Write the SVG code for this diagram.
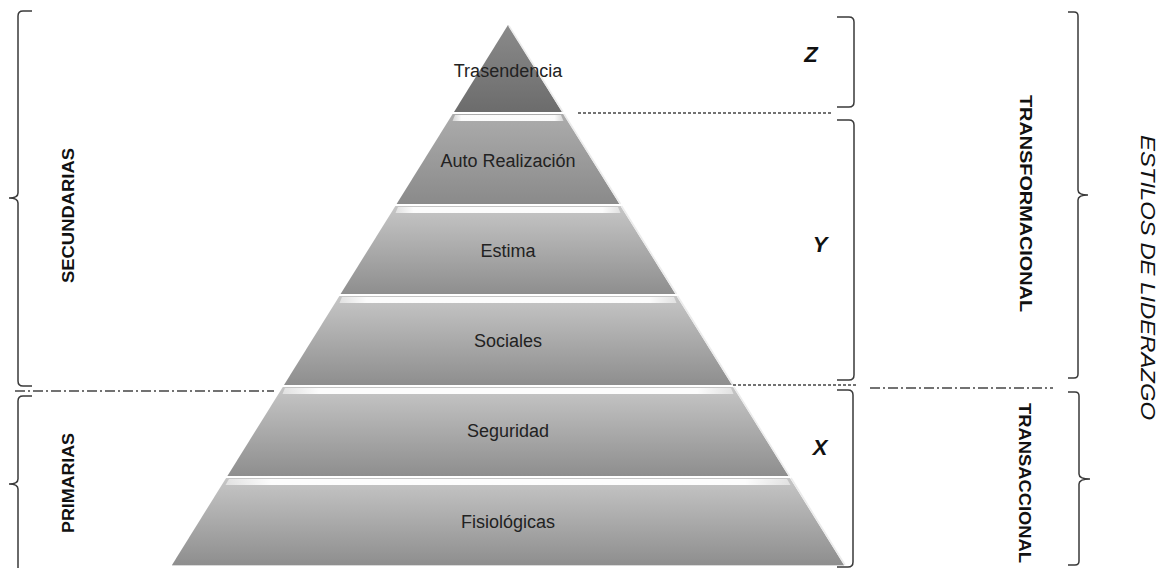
<svg xmlns="http://www.w3.org/2000/svg" width="1168" height="568" viewBox="0 0 1168 568">
<style>
.lbl{font-family:"Liberation Sans",Arial,sans-serif;font-size:18px;fill:#222;text-anchor:middle}
.cap{font-family:"Liberation Sans",Arial,sans-serif;font-weight:bold;fill:#111;text-anchor:middle}
.let{font-family:"Liberation Sans",Arial,sans-serif;font-weight:bold;font-style:italic;font-size:22px;fill:#111;text-anchor:middle}
.br{fill:none;stroke:#3a3a3a;stroke-width:1.5}
.dash{fill:none;stroke:#444;stroke-width:1.3;stroke-dasharray:3 2}
.dd{fill:none;stroke:#444;stroke-width:1.3;stroke-dasharray:10 3 2 3}
.strip{fill:url(#gs)}
.bev{fill:none;stroke:#ececec;stroke-width:1.5}
</style>
<defs>
<linearGradient id="g1" x1="0" y1="0" x2="0" y2="1"><stop offset="0" stop-color="#8a8a8a"/><stop offset="1" stop-color="#6c6c6c"/></linearGradient>
<linearGradient id="g2" x1="0" y1="0" x2="0" y2="1"><stop offset="0" stop-color="#acacac"/><stop offset="1" stop-color="#8a8a8a"/></linearGradient>
<linearGradient id="g3" x1="0" y1="0" x2="0" y2="1"><stop offset="0" stop-color="#c6c6c6"/><stop offset="1" stop-color="#8e8e8e"/></linearGradient>
<linearGradient id="gs" x1="0" y1="0" x2="1" y2="0"><stop offset="0" stop-color="#ffffff" stop-opacity="0.5"/><stop offset="0.08" stop-color="#ffffff" stop-opacity="0.95"/><stop offset="0.92" stop-color="#ffffff" stop-opacity="0.95"/><stop offset="1" stop-color="#ffffff" stop-opacity="0.5"/></linearGradient>
</defs>
<rect width="1168" height="568" fill="#ffffff"/>

<g id="tier-trasendencia">
<polygon points="508,25 562,112 454,112" fill="url(#g1)"/>
<line class="bev" x1="509" y1="26" x2="563" y2="112"/>
<text class="lbl" x="508" y="77">Trasendencia</text>
</g>
<g id="tier-autorealizacion">
<polygon points="452.6,114 563.4,114 619.4,204 396.6,204" fill="url(#g2)"/>
<polygon class="strip" points="455,115 561,115 563.5,121 452.5,121"/>
<line class="bev" x1="564" y1="114" x2="620.5" y2="204"/>
<text class="lbl" x="508" y="167">Auto Realización</text>
</g>
<g id="tier-estima">
<polygon points="395.4,206 620.6,206 675.4,294 340.6,294" fill="url(#g3)"/>
<polygon class="strip" points="398,207 618,207 620.5,213 395.5,213"/>
<line class="bev" x1="621.5" y1="206" x2="676.5" y2="294"/>
<text class="lbl" x="508" y="257">Estima</text>
</g>
<g id="tier-sociales">
<polygon points="339.4,296 676.6,296 732,385 284,385" fill="url(#g3)"/>
<polygon class="strip" points="342,297 674,297 676.5,303 339.5,303"/>
<line class="bev" x1="677.5" y1="296" x2="733" y2="385"/>
<text class="lbl" x="508" y="347">Sociales</text>
</g>
<g id="tier-seguridad">
<polygon points="282.8,387 733.2,387 788.6,476 227.4,476" fill="url(#g3)"/>
<polygon class="strip" points="285,388 731,388 733.5,394 282.5,394"/>
<line class="bev" x1="734" y1="387" x2="789.5" y2="476"/>
<text class="lbl" x="508" y="437">Seguridad</text>
</g>
<g id="tier-fisiologicas">
<polygon points="226.1,478 789.9,478 844,565 172,565" fill="url(#g3)"/>
<polygon class="strip" points="229,479 787,479 790.5,485 225.5,485"/>
<line class="bev" x1="791" y1="478" x2="845" y2="565"/>
<line x1="172" y1="565.5" x2="844" y2="565.5" stroke="#d8d8d8" stroke-width="1"/>
<text class="lbl" x="508" y="528">Fisiológicas</text>
</g>

<g id="connectors">
<line class="dd" x1="15" y1="391" x2="274" y2="391"/>
<line class="dash" x1="578" y1="113" x2="833" y2="113"/>
<line class="dash" x1="733" y1="385" x2="857" y2="385"/>
<line class="dd" x1="870" y1="388" x2="1053" y2="388"/>
</g>

<g id="brackets">
<path class="br" d="M32,11 H23 Q18,11 18,16 V193 Q18,198 9,198 M9,198 Q18,198 18,203 V381 Q18,386 23,386 H32"/>
<path class="br" d="M32,396 H23 Q18,396 18,401 V479 Q18,484 9,484 M9,484 Q18,484 18,489 V572"/>
<path class="br" d="M837,17 H849 Q854,17 854,22 V102 Q854,107 849,107 H837"/>
<path class="br" d="M837,120 H849 Q854,120 854,125 V375 Q854,380 849,380 H837"/>
<path class="br" d="M837,390 H848 Q853,390 853,395 V562 Q853,567 848,567 H837"/>
<path class="br" d="M1068,12 H1074 Q1078,12 1078,16 V190 Q1078,195 1088,195 M1088,195 Q1078,195 1078,200 V374 Q1078,378 1074,378 H1068"/>
<path class="br" d="M1068,392 H1075 Q1079,392 1079,396 V474 Q1079,479 1090,479 M1090,479 Q1079,479 1079,484 V561 Q1079,565 1075,565 H1068"/>
</g>

<g id="label-secundarias"><text class="cap" font-size="16" transform="translate(73.5,215.5) rotate(-90)" textLength="135" lengthAdjust="spacingAndGlyphs">SECUNDARIAS</text></g>
<g id="label-primarias"><text class="cap" font-size="16" transform="translate(73.5,483) rotate(-90)" textLength="100" lengthAdjust="spacingAndGlyphs">PRIMARIAS</text></g>
<g id="label-z"><text class="let" x="811" y="62">Z</text></g>
<g id="label-y"><text class="let" x="820" y="252">Y</text></g>
<g id="label-x"><text class="let" x="820" y="455">X</text></g>
<g id="label-transformacional"><text class="cap" font-size="17" transform="translate(1020,203.5) rotate(90)" textLength="217" lengthAdjust="spacingAndGlyphs">TRANSFORMACIONAL</text></g>
<g id="label-transaccional"><text class="cap" font-size="17" transform="translate(1019,483) rotate(90)" textLength="160" lengthAdjust="spacingAndGlyphs">TRANSACCIONAL</text></g>
<g id="label-estilos"><text font-family="Liberation Sans, Arial, sans-serif" font-style="italic" font-size="21" fill="#111" text-anchor="middle" transform="translate(1141,277.5) rotate(90)" textLength="285" lengthAdjust="spacingAndGlyphs">ESTILOS DE LIDERAZGO</text></g>
</svg>
